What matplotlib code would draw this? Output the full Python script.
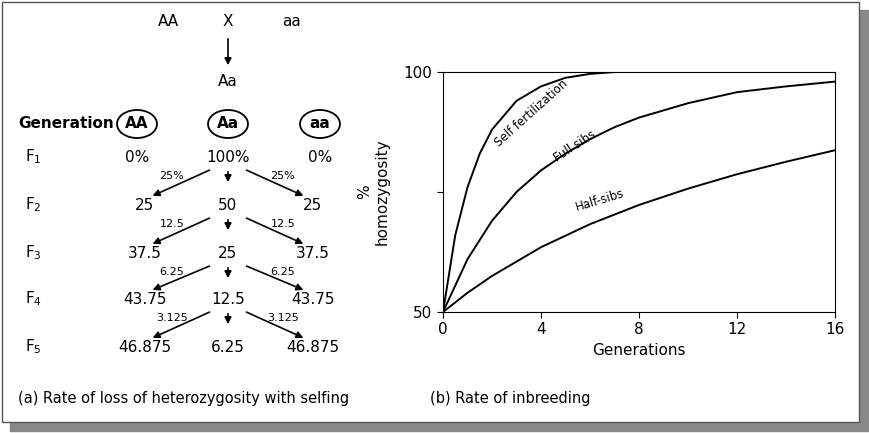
import numpy as np
import matplotlib.pyplot as plt
from matplotlib.patches import Rectangle, Ellipse

# ---- data ----
genotypes = ["AA", "Aa", "aa"]
generations = ["1", "2", "3", "4", "5"]
homo_left = ["0%", "25", "37.5", "43.75", "46.875"]
hetero = ["100%", "50", "25", "12.5", "6.25"]
homo_right = ["0%", "25", "37.5", "43.75", "46.875"]
step_labels = ["25%", "12.5", "6.25", "3.125"]

gen_self = [0, 0.5, 1, 1.5, 2, 3, 4, 5, 6, 7, 8, 10, 12, 14, 16]
pct_self = [50, 66, 76, 83, 88, 94, 97, 98.8, 99.6, 100, 100, 100, 100, 100, 100]
gen_full = [0, 1, 2, 3, 4, 5, 6, 7, 8, 10, 12, 14, 16]
pct_full = [50, 61, 69, 75, 79.5, 83, 86, 88.5, 90.5, 93.5, 95.8, 97, 98]
gen_half = [0, 1, 2, 4, 6, 8, 10, 12, 14, 16]
pct_half = [50, 54, 57.5, 63.5, 68.3, 72.3, 75.7, 78.7, 81.3, 83.7]

fig = plt.figure(figsize=(8.7, 4.33), dpi=100)
bg = fig.add_axes([0, 0, 1, 1])
bg.set_xlim(0, 870)
bg.set_ylim(433, 0)
bg.axis("off")
bg.add_patch(Rectangle((10, 10), 858, 421, color="#888888", zorder=0))
bg.add_patch(Rectangle((2, 2), 857, 420, facecolor="white", edgecolor="#555555", lw=1, zorder=1))

kw = dict(ha="center", va="center", fontsize=11, zorder=3)
bg.text(168, 22, "AA", **kw)
bg.text(228, 22, "X", **kw)
bg.text(292, 22, "aa", **kw)
bg.annotate("", xy=(228, 68), xytext=(228, 36),
            arrowprops=dict(arrowstyle="-|>", color="black", lw=1.2), zorder=3)
bg.text(228, 82, "Aa", **kw)

bg.text(18, 124, "Generation", ha="left", va="center", fontsize=11, fontweight="bold", zorder=3)
cols = [137, 228, 320]
for x, g in zip(cols, genotypes):
    bg.add_patch(Ellipse((x, 124), 40, 28, facecolor="white", edgecolor="black", lw=1.3, zorder=2))
    bg.text(x, 124, g, ha="center", va="center", fontsize=11, fontweight="bold", zorder=3)

rows = [157, 205, 253, 299, 347]
left_x = [137, 145, 145, 145, 145]
for i, y in enumerate(rows):
    bg.text(25, y, "F$_{" + generations[i] + "}$", ha="left", va="center", fontsize=11, zorder=3)
    bg.text(left_x[i], y, homo_left[i], **kw)
    bg.text(228, y, hetero[i], **kw)
    bg.text(320 if i == 0 else 313, y, homo_right[i], **kw)
    if i < len(rows) - 1:
        ny = rows[i + 1]
        ap = dict(arrowstyle="-|>", color="black", lw=1.2, mutation_scale=10)
        bg.annotate("", xy=(150, ny - 8), xytext=(212, y + 12), arrowprops=ap)
        bg.annotate("", xy=(306, ny - 8), xytext=(244, y + 12), arrowprops=ap)
        bg.annotate("", xy=(228, y + 28), xytext=(228, y + 12), arrowprops=ap)
        bg.text(172, y + 19, step_labels[i], ha="center", va="center", fontsize=8, zorder=3)
        bg.text(283, y + 19, step_labels[i], ha="center", va="center", fontsize=8, zorder=3)

bg.text(18, 399, "(a) Rate of loss of heterozygosity with selfing", ha="left", va="center", fontsize=10.5, zorder=3)
bg.text(430, 399, "(b) Rate of inbreeding", ha="left", va="center", fontsize=10.5, zorder=3)

ax = fig.add_axes([443 / 870, 121 / 433, 392 / 870, 240 / 433])
ax.plot(gen_self, pct_self, color="black", lw=1.4)
ax.plot(gen_full, pct_full, color="black", lw=1.4)
ax.plot(gen_half, pct_half, color="black", lw=1.4)
ax.set_xlim(0, 16)
ax.set_ylim(50, 100)
ax.set_xticks([0, 4, 8, 12, 16])
ax.set_yticks([50, 75, 100])
ax.set_yticklabels(["50", "", "100"])
ax.tick_params(labelsize=11, direction="out", length=4)
ax.set_xlabel("Generations", fontsize=11)
ax.set_ylabel("%\nhomozygosity", fontsize=11, labelpad=10)
ax.text(3.6, 91.5, "Self fertilization", fontsize=8.5, rotation=42, ha="center", va="center")
ax.text(5.4, 84.5, "Full sibs", fontsize=8.5, rotation=33, ha="center", va="center")
ax.text(6.4, 73.3, "Half-sibs", fontsize=8.5, rotation=17, ha="center", va="center")

fig.savefig("out.png", dpi=100)
